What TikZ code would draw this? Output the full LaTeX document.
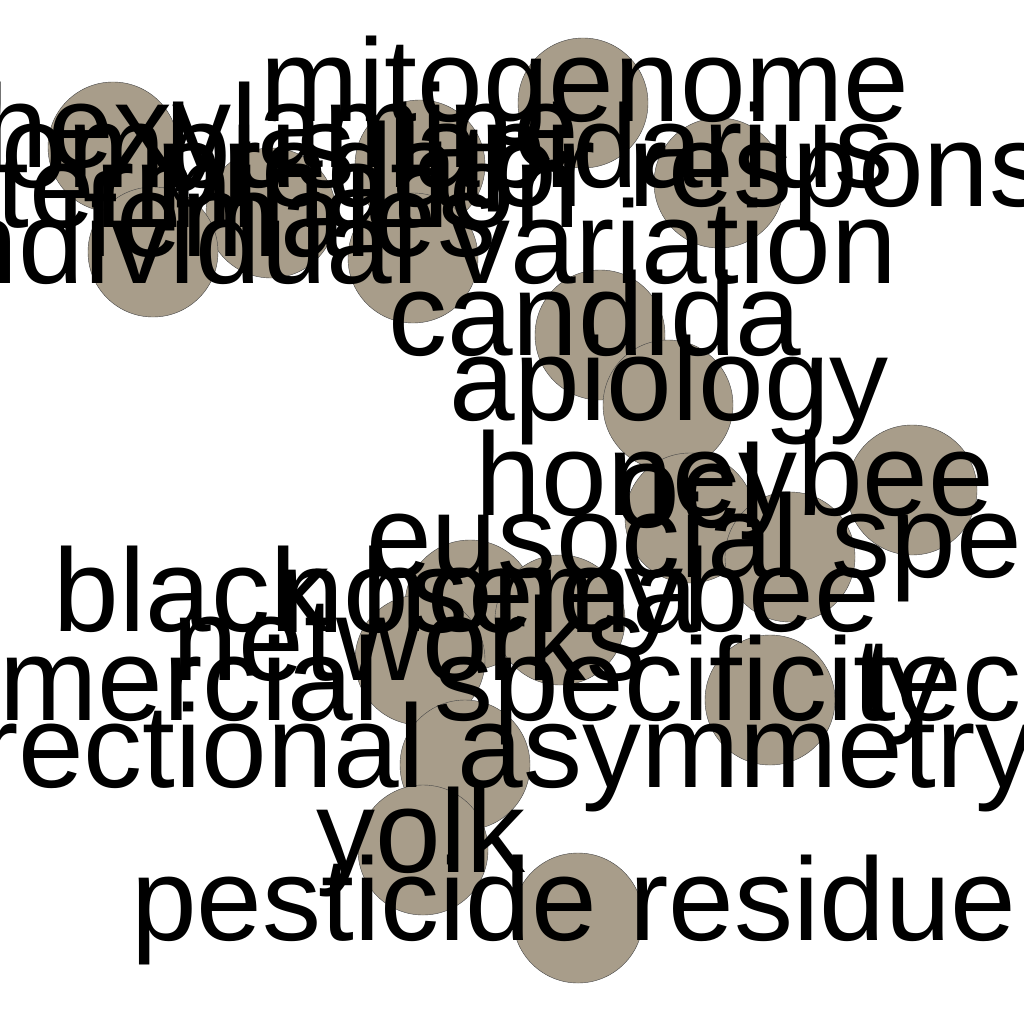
\documentclass[tikz,border=0pt]{standalone}
\usepackage{fontspec}
\setmainfont{Liberation Sans}
\definecolor{nodefill}{RGB}{168,157,138}
\definecolor{nodeline}{RGB}{70,70,70}
\begin{document}
\begin{tikzpicture}[x=1pt,y=-1pt,
  bub/.style={circle,fill=nodefill,draw=nodeline,line width=0.4pt,minimum size=130pt,inner sep=0pt},
  lbl/.style={anchor=base,inner sep=0pt,font=\fontsize{118}{120}\selectfont}]
\useasboundingbox (0,0) rectangle (1024,1024);
\begin{scope}
\clip (0,0) rectangle (1024,1024);
\node[bub] (c1) at (113,147) {};
\node[bub] (c2) at (583,103) {};
\node[bub] (c3) at (420,165) {};
\node[bub] (c4) at (271,213) {};
\node[bub] (c5) at (153,252) {};
\node[bub] (c6) at (413,258) {};
\node[bub] (c7) at (719,183) {};
\node[bub] (c8) at (600,335) {};
\node[bub] (c9) at (668,405) {};
\node[bub] (c10) at (912,490) {};
\node[bub] (c11) at (690,518) {};
\node[bub] (c12) at (790,557) {};
\node[bub] (c13) at (470,605) {};
\node[bub] (c14) at (560,620) {};
\node[bub] (c15) at (420,660) {};
\node[bub] (c16) at (770,700) {};
\node[bub] (c17) at (465,765) {};
\node[bub] (c18) at (423,850) {};
\node[bub] (c19) at (578,918) {};
\node[lbl] (l2) at (585,122) {mitogenome};
\node[lbl] (l1) at (281,168) {hexylamine};
\node[lbl] (l3) at (415,188) {bombus lapidarius};
\node[lbl] (l4) at (115,228) {sex determination};
\node[lbl] (l7) at (665,207) {predator responses};
\node[lbl] (l5) at (290,256) {females};
\node[lbl] (l6) at (412,283) {individual variation};
\node[lbl] (l8) at (595,355) {candida};
\node[lbl] (l9) at (669,420) {apiology};
\node[lbl] (l10) at (735,515) {honeybee};
\node[lbl] (l11) at (690,527) {ocl};
\node[lbl] (l12) at (799,577) {eusocial species};
\node[lbl] (l13) at (467,631) {black honeybee};
\node[lbl] (l14) at (488,632) {nosema};
\node[lbl] (l15) at (409,680) {networks};
\node[lbl] (l16a) at (78,720) {commercial};
\node[lbl] (l16) at (690,720) {specificity};
\node[lbl] (l16b) at (1149,720) {technology};
\node[lbl] (l17) at (461,787) {directional asymmetry};
\node[lbl] (l18) at (421,872) {yolk};
\node[lbl] (l19) at (574,940) {pesticide residue};
\end{scope}
\end{tikzpicture}
\end{document}
